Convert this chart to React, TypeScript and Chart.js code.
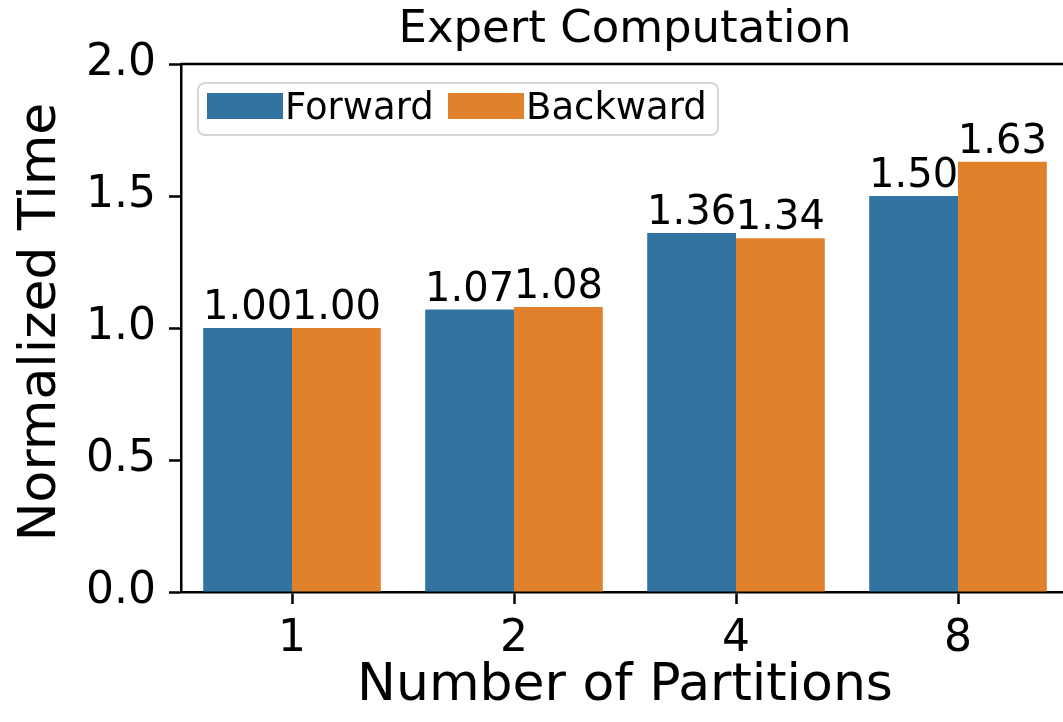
import React, { useEffect, useRef } from "react";
import { Chart, registerables } from "chart.js";

Chart.register(...registerables);

const categories = ["1", "2", "4", "8"];
const forwardValues = [1.0, 1.07, 1.36, 1.5];
const backwardValues = [1.0, 1.08, 1.34, 1.63];
const seriesNames = ["Forward", "Backward"];
const seriesColors = ["#3274a1", "#e1812c"];
const chartTitle = "Expert Computation";
const xTitle = "Number of Partitions";
const yTitle = "Normalized Time";
const yMin = 0;
const yMax = 2;
const yStep = 0.5;

const FONT = '"DejaVu Sans", sans-serif';
const W = 1080;
const H = 722;
const AXIS_LEFT = 181;
const PLOT_TOP = 64;
const PLOT_BOTTOM = 592;
const PLOT_RIGHT = 1069;

const decorPlugin = {
  id: "decor",
  afterDatasetsDraw(chart: any) {
    const ctx = chart.ctx as CanvasRenderingContext2D;
    const { left, right, top, bottom } = chart.chartArea;
    ctx.save();
    ctx.fillStyle = "#000";
    ctx.textAlign = "center";
    ctx.textBaseline = "alphabetic";
    // value labels
    ctx.font = `40px ${FONT}`;
    chart.data.datasets.forEach((ds: any, di: number) => {
      const meta = chart.getDatasetMeta(di);
      meta.data.forEach((bar: any, i: number) => {
        ctx.fillText(Number(ds.data[i]).toFixed(2), bar.x, bar.y - 9);
      });
    });
    // top/right spines
    ctx.strokeStyle = "#000";
    ctx.lineWidth = 2.5;
    ctx.beginPath();
    ctx.moveTo(left, top);
    ctx.lineTo(right, top);
    ctx.lineTo(right, bottom);
    ctx.stroke();
    // title
    ctx.font = `45px ${FONT}`;
    ctx.fillText(chartTitle, (left + right) / 2, 42);
    // x title
    ctx.font = `52px ${FONT}`;
    ctx.fillText(xTitle, (left + right) / 2, 700);
    // y title
    ctx.save();
    ctx.translate(55, (top + bottom) / 2 - 6);
    ctx.rotate(-Math.PI / 2);
    ctx.fillText(yTitle, 0, 0);
    ctx.restore();
    // legend
    const lx = 198, ly = 83, lw = 520, lh = 52, r = 7;
    ctx.beginPath();
    ctx.moveTo(lx + r, ly);
    ctx.arcTo(lx + lw, ly, lx + lw, ly + lh, r);
    ctx.arcTo(lx + lw, ly + lh, lx, ly + lh, r);
    ctx.arcTo(lx, ly + lh, lx, ly, r);
    ctx.arcTo(lx, ly, lx + lw, ly, r);
    ctx.closePath();
    ctx.fillStyle = "rgba(255,255,255,0.8)";
    ctx.fill();
    ctx.strokeStyle = "#d6d6d6";
    ctx.lineWidth = 2;
    ctx.stroke();
    const swX = [207, 448];
    const txX = [285, 526];
    ctx.font = `37px ${FONT}`;
    ctx.textAlign = "left";
    seriesNames.forEach((name, i) => {
      ctx.fillStyle = seriesColors[i];
      ctx.fillRect(swX[i], 93, 76, 26);
      ctx.fillStyle = "#000";
      ctx.fillText(name, txX[i], 119);
    });
    ctx.restore();
  },
};

export default function App() {
  const ref = useRef<HTMLCanvasElement | null>(null);
  useEffect(() => {
    if (!ref.current) return;
    const chart = new Chart(ref.current, {
      type: "bar",
      data: {
        labels: categories,
        datasets: [
          {
            label: seriesNames[0],
            data: forwardValues,
            backgroundColor: seriesColors[0],
            categoryPercentage: 0.8,
            barPercentage: 1.0,
          },
          {
            label: seriesNames[1],
            data: backwardValues,
            backgroundColor: seriesColors[1],
            categoryPercentage: 0.8,
            barPercentage: 1.0,
          },
        ],
      },
      options: {
        responsive: false,
        animation: false,
        devicePixelRatio: 1,
        layout: { padding: { top: PLOT_TOP, right: W - PLOT_RIGHT, left: 0, bottom: 0 } },
        plugins: {
          legend: { display: false },
          title: { display: false },
          tooltip: { enabled: false },
        },
        scales: {
          x: {
            grid: {
              offset: false,
              drawOnChartArea: false,
              drawTicks: true,
              tickLength: 12,
              tickWidth: 2.5,
              tickColor: "#000",
            },
            border: { display: true, color: "#000", width: 2.5 },
            ticks: {
              color: "#000",
              font: { family: FONT, size: 44 },
              padding: 9,
              maxRotation: 0,
            },
            afterFit: (scale: any) => {
              scale.height = H - PLOT_BOTTOM;
            },
          },
          y: {
            min: yMin,
            max: yMax,
            grid: {
              drawOnChartArea: false,
              drawTicks: true,
              tickLength: 12,
              tickWidth: 2.5,
              tickColor: "#000",
            },
            border: { display: true, color: "#000", width: 2.5 },
            ticks: {
              stepSize: yStep,
              color: "#000",
              font: { family: FONT, size: 44 },
              padding: 13,
              callback: (v: any) => Number(v).toFixed(1),
            },
            afterFit: (scale: any) => {
              scale.width = AXIS_LEFT;
            },
          },
        },
      },
      plugins: [decorPlugin],
    });
    return () => chart.destroy();
  }, []);
  return (
    <div
      style={{
        position: "fixed",
        left: 0,
        top: 0,
        width: 1063,
        height: 722,
        overflow: "hidden",
        background: "#fff",
      }}
    >
      <canvas ref={ref} width={W} height={H} style={{ display: "block" }} />
    </div>
  );
}
